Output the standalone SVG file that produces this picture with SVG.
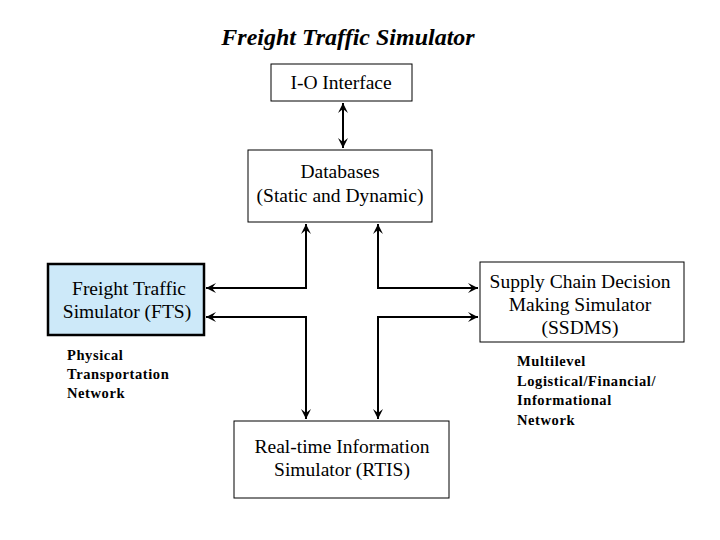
<svg xmlns="http://www.w3.org/2000/svg" width="720" height="540" viewBox="0 0 720 540">
<style>
text{font-family:"Liberation Serif","Times New Roman",serif;fill:#000}
.box{fill:#fff;stroke:#000;stroke-width:1}
.lbl{font-size:19.5px;text-anchor:middle}
.note{font-size:14.5px;font-weight:bold;letter-spacing:0.6px}
.c{fill:none;stroke:#000;stroke-width:2}
</style>
<defs>
<marker id="a" viewBox="0 0 10 10" refX="10" refY="5" markerWidth="5" markerHeight="5" orient="auto-start-reverse">
<path d="M0,0 L10,5 L0,10 L4,5 Z" fill="#000"/>
</marker>
</defs>
<rect width="720" height="540" fill="#fff"/>
<text x="348" y="45" font-size="24" font-weight="bold" font-style="italic" text-anchor="middle">Freight Traffic Simulator</text>
<g id="io"><rect class="box" x="271" y="64" width="141" height="37"/><text class="lbl" x="341" y="89">I-O Interface</text></g>
<g id="db"><rect class="box" x="248" y="150" width="184" height="72"/><text class="lbl" x="340" y="178">Databases</text><text class="lbl" x="340" y="202">(Static and Dynamic)</text></g>
<g id="fts"><rect x="48" y="264" width="156" height="71" fill="#cde9f9" stroke="#000" stroke-width="2.5"/><text class="lbl" x="129" y="295">Freight Traffic</text><text class="lbl" x="127" y="318">Simulator (FTS)</text></g>
<g id="ssdms"><rect class="box" x="480" y="262" width="204" height="80"/><text class="lbl" x="580" y="288">Supply Chain Decision</text><text class="lbl" x="580" y="311">Making Simulator</text><text class="lbl" x="580" y="334">(SSDMS)</text></g>
<g id="rtis"><rect class="box" x="234" y="421" width="215" height="77"/><text class="lbl" x="342" y="453">Real-time Information</text><text class="lbl" x="342" y="476">Simulator (RTIS)</text></g>
<g id="notes">
<text class="note" x="67" y="360">Physical</text><text class="note" x="67" y="379">Transportation</text><text class="note" x="67" y="398">Network</text>
<text class="note" x="517" y="366">Multilevel</text><text class="note" x="517" y="386">Logistical/Financial/</text><text class="note" x="517" y="405">Informational</text><text class="note" x="517" y="425">Network</text>
</g>
<g id="connectors">
<path class="c" d="M343,103 V148" marker-start="url(#a)" marker-end="url(#a)"/>
<path class="c" d="M306,224 V288 H206" marker-start="url(#a)" marker-end="url(#a)"/>
<path class="c" d="M378,224 V288 H478" marker-start="url(#a)" marker-end="url(#a)"/>
<path class="c" d="M206,317 H306 V419" marker-start="url(#a)" marker-end="url(#a)"/>
<path class="c" d="M478,317 H378 V419" marker-start="url(#a)" marker-end="url(#a)"/>
</g>
</svg>
